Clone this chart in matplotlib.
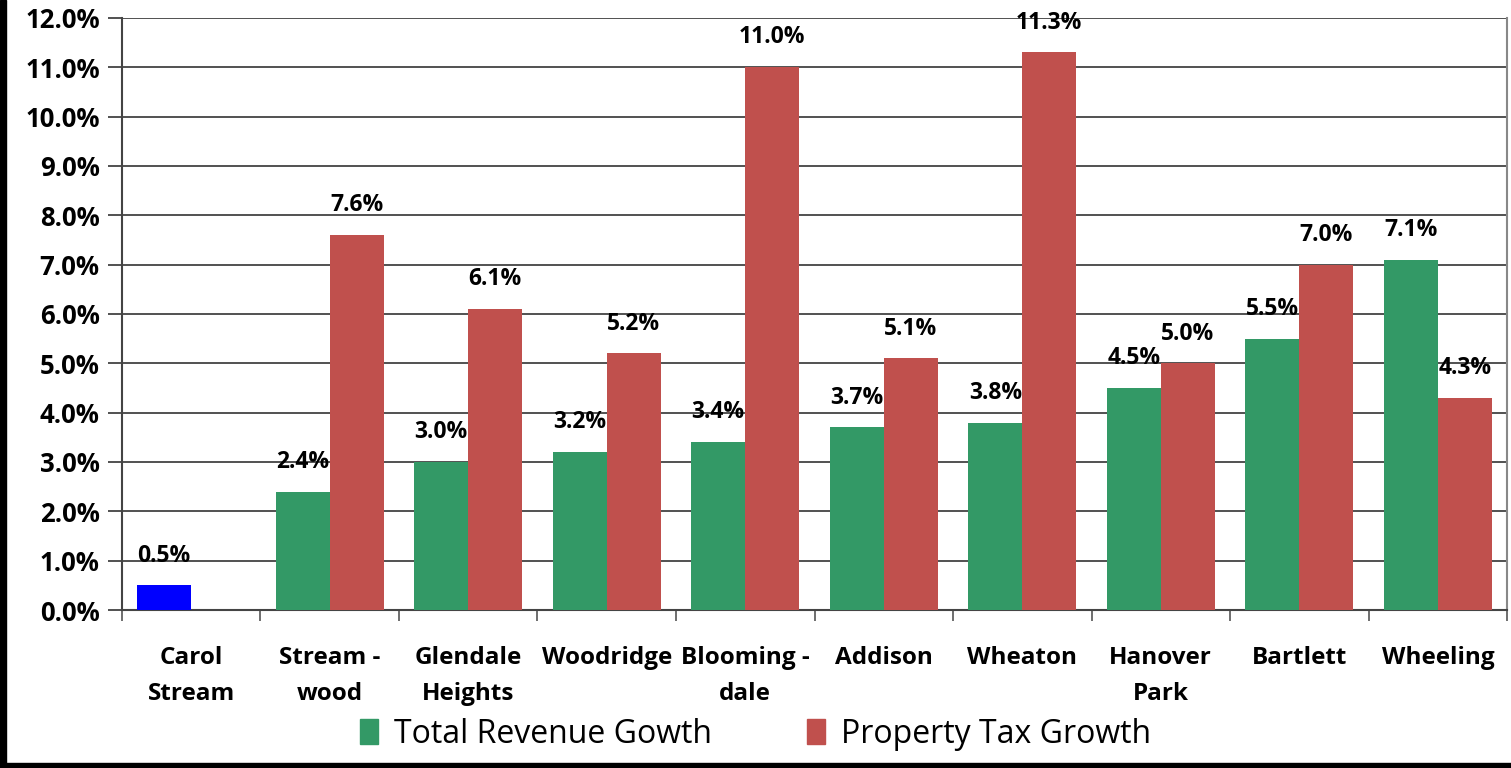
import numpy as np
import matplotlib
matplotlib.use("Agg")
import matplotlib.pyplot as plt
from matplotlib.patches import Rectangle, Patch
from matplotlib.ticker import FuncFormatter, MultipleLocator

plt.rcParams["font.family"] = ["Open Sans", "DejaVu Sans"]

towns = ["Carol\nStream", "Stream -\nwood", "Glendale\nHeights", "Woodridge",
         "Blooming -\ndale", "Addison", "Wheaton", "Hanover\nPark", "Bartlett", "Wheeling"]
revenue_growth = [0.5, 2.4, 3.0, 3.2, 3.4, 3.7, 3.8, 4.5, 5.5, 7.1]
property_tax_growth = [None, 7.6, 6.1, 5.2, 11.0, 5.1, 11.3, 5.0, 7.0, 4.3]

GREEN = "#339966"
RED = "#C0504D"
BLUE = "#0000FF"

fig = plt.figure(figsize=(15.11, 7.68), dpi=100)
ax = fig.add_axes([0.0807, 0.2057, 0.9167, 0.771])

x = np.arange(len(towns))
w = 0.39
for i in x:
    g = revenue_growth[i]
    r = property_tax_growth[i]
    ax.bar(i - w / 2, g, w, color=BLUE if r is None else GREEN, zorder=3)
    ax.text(i - w / 2, g + 0.36, f"{g:.1f}%", ha="center", va="bottom",
            fontsize=16.5, fontweight="bold", zorder=4)
    if r is not None:
        ax.bar(i + w / 2, r, w, color=RED, zorder=3)
        ax.text(i + w / 2, r + 0.36, f"{r:.1f}%", ha="center", va="bottom",
                fontsize=16.5, fontweight="bold", zorder=4)

ax.set_xlim(-0.5, len(towns) - 0.5)
ax.set_ylim(0, 12)
ax.yaxis.set_major_locator(MultipleLocator(1))
ax.yaxis.set_major_formatter(FuncFormatter(lambda v, _: f"{v:.1f}%"))
ax.grid(axis="y", color="#222222", linewidth=1.1, zorder=0)

ax.set_xticks(x)
ax.set_xticklabels(towns, fontsize=17.5, fontweight="bold", linespacing=1.65, va="top")
ax.tick_params(axis="x", length=0, pad=26)
ax.set_xticks(np.arange(len(towns) + 1) - 0.5, minor=True)
ax.tick_params(axis="x", which="minor", length=8, color="#555555", width=1.2)
ax.tick_params(axis="y", length=10, color="#222222", width=1.1, labelsize=18.5, pad=6)
for lbl in ax.get_yticklabels():
    lbl.set_fontweight("bold")

ax.spines["top"].set_visible(False)
ax.spines["left"].set_color("#444444")
ax.spines["left"].set_linewidth(1.5)
ax.spines["bottom"].set_color("#444444")
ax.spines["bottom"].set_linewidth(1.5)
ax.spines["right"].set_color("#888888")
ax.spines["right"].set_linewidth(1.5)

handles = [Patch(color=GREEN, label="Total Revenue Gowth"),
           Patch(color=RED, label="Property Tax Growth")]
fig.legend(handles=handles, loc="center", bbox_to_anchor=(0.5, 0.044),
           ncol=2, frameon=False, fontsize=23, handlelength=0.55, handleheight=0.85,
           handletextpad=0.5, columnspacing=3.0)

# black frame on the left and bottom edges
fig.patches.append(Rectangle((0, 0), 6 / 1511, 1, transform=fig.transFigure,
                             color="black", zorder=10))
fig.patches.append(Rectangle((0, 0), 1, 5 / 768, transform=fig.transFigure,
                             color="black", zorder=10))

fig.savefig("out.png", dpi=100)
